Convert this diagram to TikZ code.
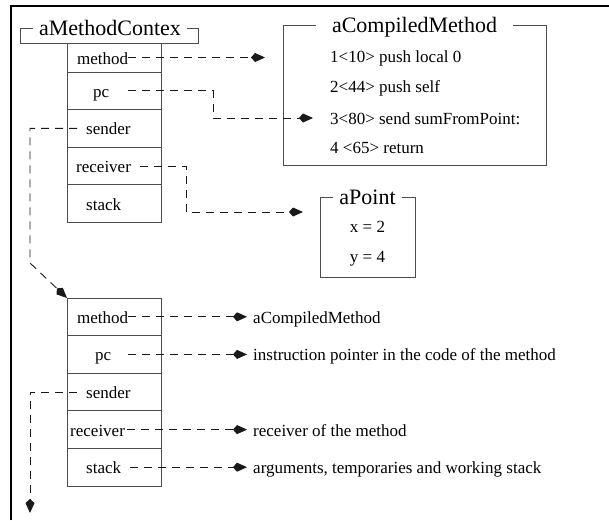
\documentclass[tikz,border=0pt]{standalone}
\usepackage{fontspec}
\setmainfont{Liberation Serif}
\usepackage{tikz}
\usetikzlibrary{arrows.meta,positioning}
\tikzstyle{slot} = [rectangle, draw=black!70, line width=0.9pt, minimum width=94pt, minimum height=37.6pt, inner sep=0pt, outer sep=0pt]
\tikzstyle{objbox} = [rectangle, draw=black!70, line width=0.9pt, inner sep=0pt, outer sep=0pt]
\tikzstyle{objname} = [fill=white, inner xsep=6pt, inner ysep=0pt, text height=14pt, text depth=0pt, font=\fontsize{22}{26}\selectfont]
\tikzstyle{textonly} = [draw=none, fill=none, inner sep=0pt, text height=14pt, text depth=1pt, font=\fontsize{17}{20}\selectfont]
\tikzstyle{tedge} = [draw, black!90, line width=0.9pt, dash pattern=on 8pt off 6pt, -{Kite[length=14pt,width=9pt,inset=4pt]}]
\tikzstyle{frame} = [draw, line width=2.5pt]

\begin{document}
\begin{tikzpicture}[x=1pt, y=-1pt]
\useasboundingbox (0,0) rectangle (609,520);
\path[frame] (11,520) -- (11,6) -- (609,6);

% context object =============================

\node[objbox, minimum width=178pt, minimum height=15pt, anchor=north west] (ctx) at (20,28) {};
\node[objname] (ctxname) at ([xshift=1pt]ctx.north) {aMethodContex};

\node[slot, minimum height=29pt, anchor=north west] (c1) at (67,43) {};
\node[slot, below=0pt of c1] (c2) {};
\node[slot, below=0pt of c2] (c3) {};
\node[slot, below=0pt of c3] (c4) {};
\node[slot, below=0pt of c4] (c5) {};

\node[textonly, right=10pt of c1.west] (m1) {method};
\node[textonly, right=26pt of c2.west] (p1) {pc};
\node[textonly, right=19pt of c3.west] (s1) {sender};
\node[textonly, right=9pt of c4.west] (r1) {receiver};
\node[textonly, right=19pt of c5.west] (k1) {stack};

% compiled method
\node[objbox, minimum width=263pt, minimum height=140pt, anchor=north west] (cm) at (283,25) {};
\node[objname, inner xsep=16pt] (cmname) at (cm.north) {aCompiledMethod};

\node[textonly, anchor=west] (cl1) at (330,56) {1<10> push local 0};
\node[textonly, anchor=west] (cl2) at ([yshift=-30pt]cl1.west) {2<44> push self};
\node[textonly, anchor=west] (cl3) at ([yshift=-32pt]cl2.west) {3<80> send sumFromPoint:};
\node[textonly, anchor=west] (cl4) at ([yshift=-29pt]cl3.west) {4 <65> return};

% receiver object
\node[objbox, minimum width=95pt, minimum height=80pt, anchor=north west] (pt) at (320,197) {};
\node[objname] (ptname) at (pt.north) {aPoint};
\node[textonly] (px) at ([yshift=-29pt]pt.north) {x = 2};
\node[textonly] (py) at ([yshift=-59pt]pt.north) {y = 4};

% sender context =============================

\node[slot, anchor=north west] (q1) at (67,298) {};
\node[slot, below=0pt of q1] (q2) {};
\node[slot, below=0pt of q2] (q3) {};
\node[slot, below=0pt of q3] (q4) {};
\node[slot, below=0pt of q4] (q5) {};

\node[textonly, right=10pt of q1.west] (m2) {method};
\node[textonly, right=28pt of q2.west] (p2) {pc};
\node[textonly, right=19pt of q3.west] (s2) {sender};
\node[textonly, right=3pt of q4.west] (r2) {receiver};
\node[textonly, right=19pt of q5.west] (k2) {stack};

\coordinate (dcol) at (253,0);
\node[textonly, anchor=west] (d1) at (m2.west -| dcol) {aCompiledMethod};
\node[textonly, anchor=west] (d2) at (p2.west -| dcol) {instruction pointer in the code of the method};
\node[textonly, anchor=west] (d4) at (r2.west -| dcol) {receiver of the method};
\node[textonly, anchor=west] (d5) at (k2.west -| dcol) {arguments, temporaries and working stack};

\coordinate (sbend) at (30,263);
\coordinate (send) at (30,513);

% edges of the context
\path[tedge, shorten >=18pt] (m1.east) -- (m1.east -| cm.west);
\path[tedge, shorten >=17pt] (p1.east -| m1.east) -- ++(85,0) |- (cl3.west);
\path[tedge] ([xshift=-9pt]s1.west) -| (sbend) -- (q1.north west);
\path[tedge, shorten >=17pt] ([xshift=9pt]r1.east) -- ++(46,0) |- ([yshift=-15pt]pt.north west);

% edges of the sender
\path[tedge, shorten >=6pt] (m2.east) -- (d1.west);
\path[tedge, shorten >=6pt] (p2.east -| m2.east) -- (d2.west);
\path[tedge] ([xshift=-9pt]s2.west) -| (send);
\path[tedge, shorten >=6pt] ([xshift=2pt]r2.east) -- (d4.west);
\path[tedge, shorten >=6pt] ([xshift=9pt]k2.east) -- (d5.west);

\end{tikzpicture}
\end{document}
